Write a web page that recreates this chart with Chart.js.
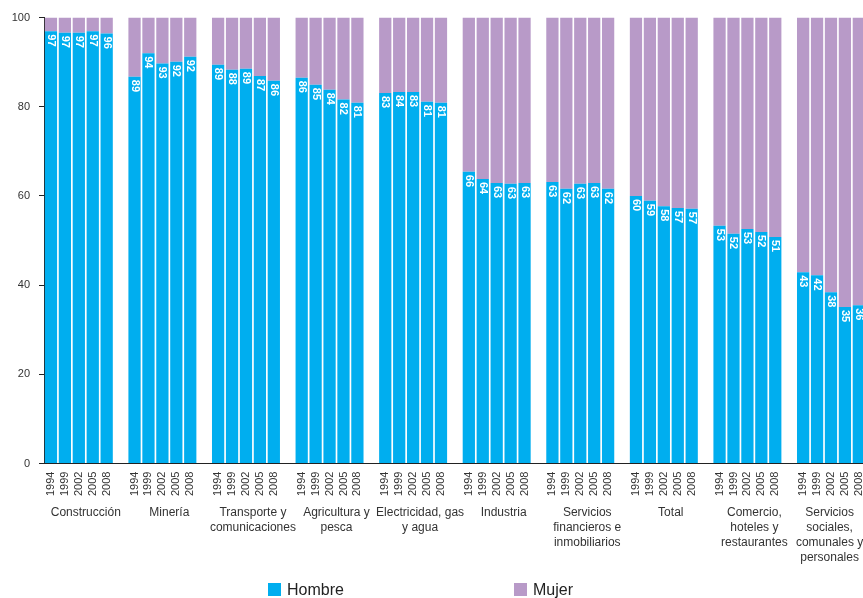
<!DOCTYPE html>
<html>
<head>
<meta charset="utf-8">
<script src="https://cdn.jsdelivr.net/npm/chart.js@4/dist/chart.umd.min.js"></script>
<style>
  html, body { margin: 0; padding: 0; background: #fff; width: 863px; height: 598px; overflow: hidden; }
  #wrap { position: relative; width: 894px; height: 598px; }
  .leg { position: absolute; top: 581px; font: 16px Arial, 'Liberation Sans', sans-serif; color: #222; white-space: nowrap; }
  .leg i { display: inline-block; width: 13px; height: 13px; margin-right: 6px; vertical-align: -1px; }
</style>
</head>
<body>
<div id="wrap">
  <canvas id="myChart" width="894" height="598"></canvas>
  <div class="leg" style="left:268px"><i style="background:#00AEEF"></i>Hombre</div>
  <div class="leg" style="left:514px"><i style="background:#B89AC8"></i>Mujer</div>
</div>
<script>
const grupos = [
  ['Construcción'], ['Minería'], ['Transporte y', 'comunicaciones'], ['Agricultura y', 'pesca'],
  ['Electricidad, gas', 'y agua'], ['Industria'], ['Servicios', 'financieros e', 'inmobiliarios'],
  ['Total'], ['Comercio,', 'hoteles y', 'restaurantes'], ['Servicios', 'sociales,', 'comunales y', 'personales']
];
const anios = ['1994', '1999', '2002', '2005', '2008'];

// participación de hombres (%) por grupo y año
const hombre = [
  [96.9, 96.6, 96.6, 96.9, 96.4],
  [86.7, 92.0, 89.7, 90.1, 91.2],
  [89.4, 88.3, 88.5, 86.9, 85.8],
  [86.5, 84.9, 83.8, 81.6, 80.9],
  [83.1, 83.3, 83.3, 81.1, 80.9],
  [65.4, 63.8, 62.9, 62.7, 62.9],
  [63.1, 61.6, 62.7, 62.9, 61.6],
  [60.0, 58.9, 57.7, 57.3, 57.1],
  [53.3, 51.5, 52.6, 51.9, 50.8],
  [42.9, 42.2, 38.4, 35.1, 35.5]
];
const mujer = [
  [3.1, 3.4, 3.4, 3.1, 3.6],
  [13.3, 8.0, 10.3, 9.9, 8.8],
  [10.6, 11.7, 11.5, 13.1, 14.2],
  [13.5, 15.1, 16.2, 18.4, 19.1],
  [16.9, 16.7, 16.7, 18.9, 19.1],
  [34.6, 36.2, 37.1, 37.3, 37.1],
  [36.9, 38.4, 37.3, 37.1, 38.4],
  [40.0, 41.1, 42.3, 42.7, 42.9],
  [46.7, 48.5, 47.4, 48.1, 49.2],
  [57.1, 57.8, 61.6, 64.9, 64.5]
];
// etiquetas impresas sobre las barras
const etiquetas = [
  [97, 97, 97, 97, 96],
  [89, 94, 93, 92, 92],
  [89, 88, 89, 87, 86],
  [86, 85, 84, 82, 81],
  [83, 84, 83, 81, 81],
  [66, 64, 63, 63, 63],
  [63, 62, 63, 63, 62],
  [60, 59, 58, 57, 57],
  [53, 52, 53, 52, 51],
  [43, 42, 38, 35, 36]
];
const yTicks = [0, 20, 40, 60, 80, 100];

const FONT = "Arial, 'Liberation Sans', sans-serif";

// una columna por año y una columna vacia entre grupos
const labels = [], dH = [], dM = [], dL = [];
grupos.forEach((g, gi) => {
  anios.forEach((a, ai) => {
    labels.push(a);
    dH.push(hombre[gi][ai]);
    dM.push(mujer[gi][ai]);
    dL.push(etiquetas[gi][ai]);
  });
  labels.push('');
  dH.push(null); dM.push(null); dL.push(null);
});

// el ultimo rotulo va corrido a la izquierda para que quepa
const grupoLabels = grupos.map((g, i) => i === grupos.length - 1 ? g.map(s => s + '     ') : g);

const barLabels = {
  id: 'barLabels',
  afterDatasetsDraw(chart) {
    const ctx = chart.ctx;
    const meta = chart.getDatasetMeta(0);
    ctx.save();
    ctx.fillStyle = '#fff';
    ctx.font = 'bold 11px ' + FONT;
    ctx.textAlign = 'left';
    ctx.textBaseline = 'middle';
    meta.data.forEach((el, i) => {
      if (dL[i] === null) return;
      ctx.save();
      ctx.translate(el.x, el.y + 3);
      ctx.rotate(Math.PI / 2);
      ctx.fillText(String(dL[i]), 0, 0);
      ctx.restore();
    });
    ctx.restore();
  }
};

new Chart(document.getElementById('myChart').getContext('2d'), {
  type: 'bar',
  data: {
    labels,
    datasets: [
      { label: 'Hombre', data: dH, backgroundColor: '#00AEEF', stack: 's', barPercentage: 0.88, categoryPercentage: 1 },
      { label: 'Mujer', data: dM, backgroundColor: '#B89AC8', stack: 's', barPercentage: 0.88, categoryPercentage: 1 }
    ]
  },
  options: {
    responsive: false,
    devicePixelRatio: 1,
    animation: false,
    layout: { padding: { top: 17.5, right: 4, bottom: 32, left: 0 } },
    plugins: { legend: { display: false }, tooltip: { enabled: false } },
    scales: {
      x: {
        stacked: true,
        grid: { display: false, drawTicks: false },
        border: { color: '#222', width: 1 },
        ticks: { autoSkip: false, maxRotation: 90, minRotation: 90, padding: 8, color: '#333', font: { family: FONT, size: 11 } }
      },
      x2: {
        type: 'category',
        position: 'bottom',
        labels: grupoLabels,
        offset: true,
        grid: { display: false, drawTicks: false },
        border: { display: false },
        ticks: { autoSkip: false, maxRotation: 0, minRotation: 0, padding: 1, color: '#333', font: { family: FONT, size: 12, lineHeight: 1.25 } }
      },
      y: {
        stacked: true,
        min: 0,
        max: 100,
        afterFit(scale) { scale.width = 44; },
        afterBuildTicks(scale) { scale.ticks = yTicks.map(v => ({ value: v })); },
        grid: { display: true, drawOnChartArea: false, tickLength: 5, color: '#222' },
        border: { color: '#222', width: 1 },
        ticks: { padding: 9, color: '#333', font: { family: FONT, size: 11 } }
      }
    }
  },
  plugins: [barLabels]
});
</script>
</body>
</html>
